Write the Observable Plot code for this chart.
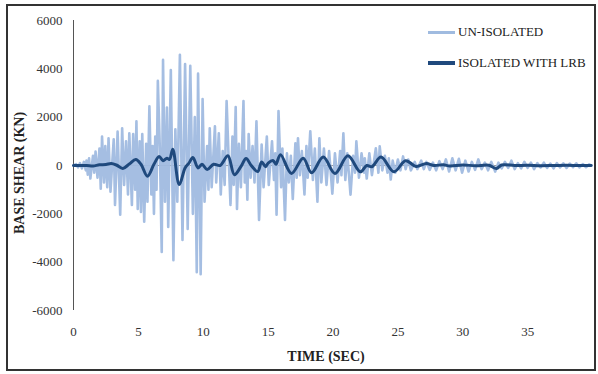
<!DOCTYPE html>
<html><head><meta charset="utf-8">
<script src="https://cdn.jsdelivr.net/npm/d3@7"></script>
<script src="https://cdn.jsdelivr.net/npm/@observablehq/plot@0.6"></script>
<style>
body{margin:0;background:#fff;}
#wrap{position:relative;width:598px;height:374px;font-family:"Liberation Serif","Times New Roman",serif;color:#222;}
#border{position:absolute;left:6px;top:4px;width:590px;height:367px;border:2px solid #333;box-sizing:border-box;pointer-events:none;}
.title{position:absolute;font-weight:bold;font-size:14px;white-space:nowrap;}
#ytitle{left:20px;top:173px;transform:translate(-50%,-50%) rotate(-90deg);}
#xtitle{left:326px;top:357px;transform:translate(-50%,-50%);}
.leg{position:absolute;left:428px;font-size:13px;display:flex;align-items:center;white-space:nowrap;}
.leg span.sw{display:inline-block;width:27px;margin-right:3px;}
</style>
</head><body>
<div id="wrap">
<div id="chart"></div>
<div id="border"></div>
<div class="title" id="ytitle">BASE SHEAR (KN)</div>
<div class="title" id="xtitle">TIME (SEC)</div>
<div class="leg" style="top:24px"><span class="sw" style="height:3px;background:#a0bbe0"></span>UN-ISOLATED</div>
<div class="leg" style="top:55px"><span class="sw" style="height:3.5px;background:#1f497d"></span>ISOLATED WITH LRB</div>
</div>
<script>
// Series names
const seriesNames = ["UN-ISOLATED", "ISOLATED WITH LRB"];
// Axis ticks
const xTicks = [0, 5, 10, 15, 20, 25, 30, 35];
const yTicks = [-6000, -4000, -2000, 0, 2000, 4000, 6000];

// UN-ISOLATED base shear (kN) vs time (s)
const unTime = [0,0.2,0.35,0.5,0.65,0.8,0.95,1.0,1.1,1.2,1.3,1.5,1.6,1.7,1.85,2.0,2.1,2.2,2.35,2.45,2.6,2.7,2.85,2.95,3.1,3.2,3.4,3.6,3.75,3.9,4.05,4.2,4.3,4.5,4.6,4.75,4.85,4.95,5.1,5.2,5.3,5.45,5.6,5.7,5.85,6.0,6.1,6.2,6.3,6.4,6.5,6.65,6.8,6.9,7.05,7.2,7.3,7.5,7.7,7.85,8.0,8.2,8.4,8.6,8.8,9.0,9.2,9.35,9.5,9.6,9.8,9.95,10.1,10.3,10.4,10.5,10.65,10.9,11.0,11.2,11.35,11.5,11.65,11.8,11.95,12.1,12.25,12.35,12.5,12.6,12.75,12.9,13.1,13.2,13.3,13.4,13.5,13.65,13.8,13.95,14.1,14.3,14.5,14.65,14.9,15.05,15.3,15.45,15.55,15.65,15.8,16.0,16.1,16.3,16.45,16.6,16.75,16.9,17.1,17.2,17.3,17.45,17.6,17.8,17.95,18.05,18.25,18.45,18.6,18.8,18.95,19.1,19.3,19.5,19.7,19.95,20.15,20.35,20.55,20.65,20.8,20.95,21.1,21.35,21.55,21.7,21.8,22.0,22.2,22.4,22.45,22.6,22.8,23.0,23.3,23.5,23.6,23.8,24.0,24.2,24.3,24.45,24.6,24.8,25.0,25.2,25.4,25.6,25.8,26.0,26.3,26.5,26.8,27.0,27.2,27.45,27.7,27.95,28.2,28.45,28.7,28.95,29.2,29.45,29.7,29.95,30.2,30.45,30.7,30.95,31.2,31.45,31.7,31.95,32.2,32.5,32.75,33.0,33.25,33.5,33.75,34.0,34.25,34.5,34.75,35.0,35.25,35.5,35.75,36.0,36.25,36.5,36.75,37.0,37.25,37.5,37.75,38.0,38.25,38.5,38.75,39.0,39.25,39.5,39.75,39.9];
const unShear = [0,60,-80,100,-120,150,-200,200,-380,300,-540,400,-300,580,-500,700,-960,1200,-700,800,-900,1130,-1080,-200,1080,-1630,1400,-2040,1540,-800,1000,-1200,1330,-1630,1300,-1000,1830,-1800,1000,-1920,1300,-2330,900,-1500,2450,-1200,800,-2000,1200,-1000,3500,800,-3580,4370,-1500,2400,-2540,3950,-3920,1500,-1500,4580,-3080,4200,-2630,4130,-2000,2000,-4420,3800,-4500,2750,-1500,800,-1000,1540,-900,1620,-700,1330,-1200,600,-800,2670,400,-1630,1200,-800,2420,-1800,900,-900,2670,-700,600,-1420,1300,-500,800,-700,1830,-2250,870,-900,1200,-800,1000,-600,500,-2040,2250,-900,700,-2250,500,-700,400,-1380,920,-500,1130,-400,600,-1200,800,-500,1420,-600,700,-1500,1130,-700,700,-800,600,-1170,500,-700,600,-400,1330,-600,500,-1210,400,-300,1000,-500,500,-300,300,-540,500,-400,710,-300,790,-200,400,-300,300,-580,200,-300,250,-200,375,-150,250,-200,150,-150,200,-150,150,-180,120,-200,180,-150,250,-250,300,-200,280,-300,200,-250,150,-180,250,-150,120,-200,150,-250,120,-120,150,-100,200,-150,100,-120,150,-100,120,-150,100,-80,120,-100,80,-120,100,-80,90,-100,80,-70,90,-80,60,-70,50,0];

// ISOLATED WITH LRB base shear (kN) vs time (s)
const isoTime = [0,1,1.5,2,2.5,2.9,3.3,3.8,4.3,4.8,5.2,5.7,6.2,6.6,6.9,7.2,7.4,7.65,8.15,8.6,8.9,9.2,9.6,9.9,10.3,10.8,11.3,11.9,12.4,12.9,13.3,13.7,14.2,14.5,14.8,15.0,15.4,15.6,15.95,16.8,17.7,18.35,19.25,20.15,21.15,22.1,22.6,23.0,23.7,24.7,25.6,26.4,27.2,27.8,28.5,29,30,31,32,32.6,33,34,35,36,37,38,39,39.9];
const isoShear = [0,0,-20,30,40,80,20,-120,60,250,50,-440,50,375,200,300,250,670,-790,-100,100,330,-100,50,-170,50,0,400,-380,-50,290,0,-250,150,-50,100,200,50,450,-330,300,-300,350,-330,400,-260,0,-50,350,-260,200,-40,80,0,30,-20,20,-10,10,-120,20,0,10,-10,0,10,0,0];

const un = unTime.map((t, i) => ({t, v: unShear[i]}));
const iso = isoTime.map((t, i) => ({t, v: isoShear[i]}));

const plot = Plot.plot({
  width: 598,
  height: 374,
  marginLeft: 73,
  marginRight: 6,
  marginTop: 20,
  marginBottom: 64,
  style: {fontFamily: '"Liberation Serif","Times New Roman",serif', fontSize: "13px", color: "#333", background: "transparent"},
  x: {domain: [0, 40], ticks: xTicks, tickSize: 0, tickPadding: 16, label: null, tickFormat: d => String(d)},
  y: {domain: [-6000, 6000], ticks: yTicks, tickSize: 0, tickPadding: 11, label: null, tickFormat: d => String(d)},
  marks: [
    Plot.ruleY([0], {stroke: "#999", strokeWidth: 1}),
    Plot.ruleX([0], {stroke: "#555", strokeWidth: 1}),
    Plot.line(un, {x: "t", y: "v", stroke: "#a0bbe0", strokeWidth: 2.6, strokeOpacity: 0.95}),
    Plot.line(iso, {x: "t", y: "v", stroke: "#1f497d", strokeWidth: 3, curve: "catmull-rom"})
  ]
});
document.getElementById("chart").appendChild(plot);
</script>
</body></html>
